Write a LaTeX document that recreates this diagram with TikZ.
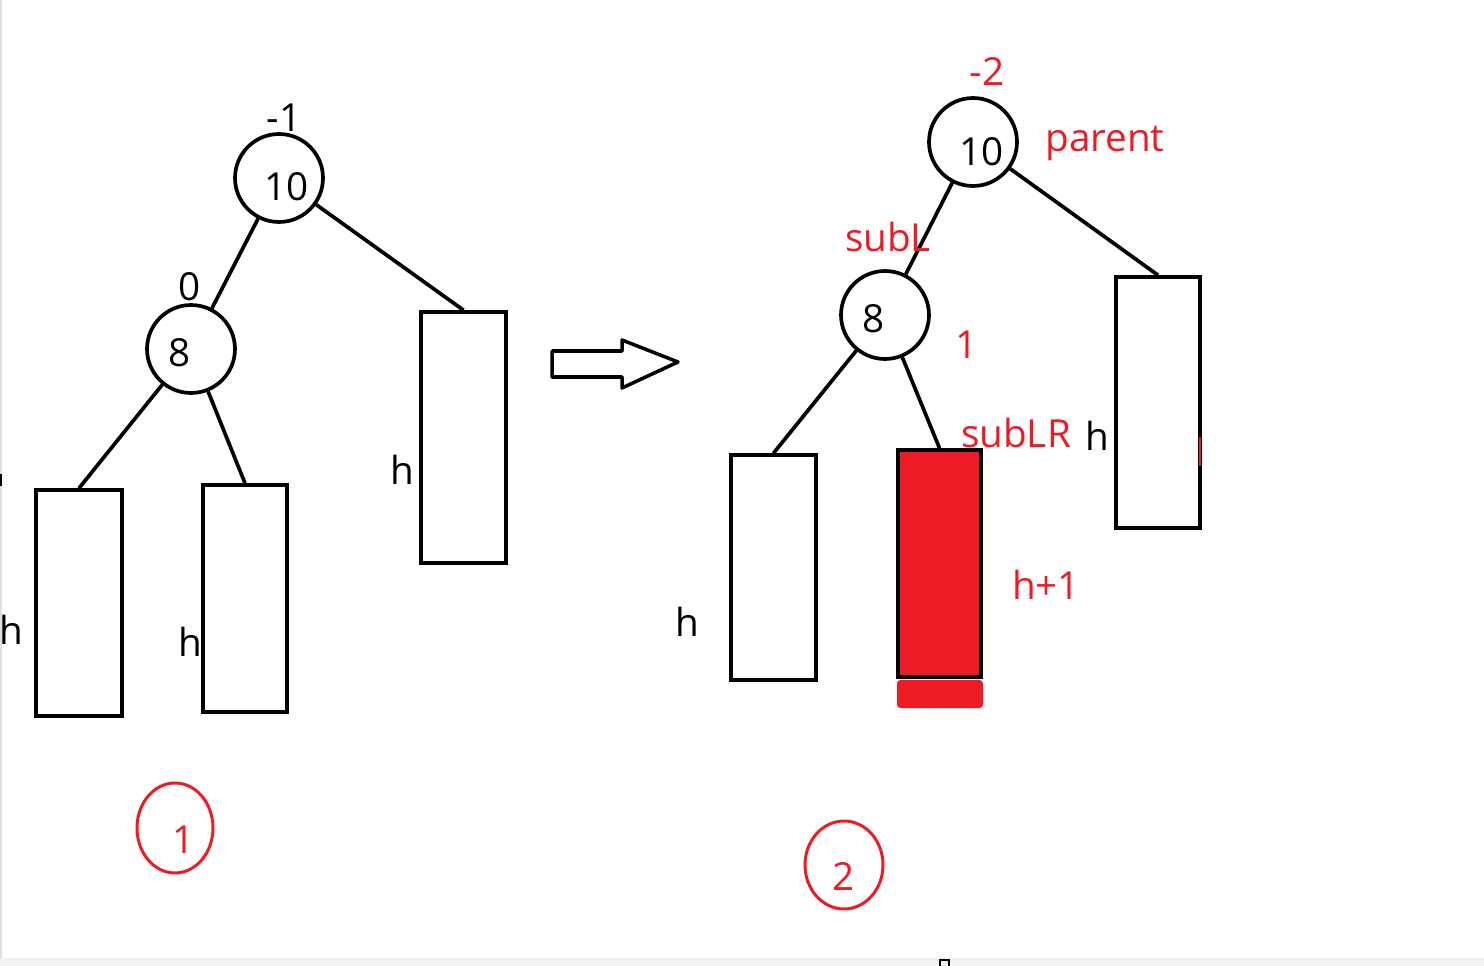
\documentclass[tikz,border=0pt]{standalone}
\usepackage{fontspec}
\setmainfont{Open Sans}
\usetikzlibrary{shapes.geometric}
\definecolor{paintred}{HTML}{ED1C24}
\tikzset{
  treenode/.style = {draw, circle, line width=2.1pt, minimum size=1.76cm, inner sep=0pt, text depth=0pt, font=\fontsize{22}{26}\selectfont},
  subtree/.style = {draw, rectangle, line width=2.1pt, inner sep=0pt},
  txt/.style = {font=\fontsize{22}{26}\selectfont, inner sep=0pt},
  redtxt/.style = {txt, text=paintred},
  numring/.style = {draw=paintred, ellipse, line width=1.7pt, inner sep=0pt, text depth=0pt, text height=29pt, text=paintred, font=\fontsize{22}{26}\selectfont},
  edge/.style = {line width=2.1pt}
}
\begin{document}
\begin{tikzpicture} [x = 0.02cm, y = -0.02cm]
	\useasboundingbox (0,0) rectangle (1484,966);
	% window frame
	\fill [gray!10] (0,958) rectangle (1484,966);
	\draw [gray!25, line width=0.6pt] (1,0) -- (1,958);
	\draw [line width=1pt] (1,474) -- (1,486);
	\draw [line width=1pt] (940,966) -- (940,960) -- (949,960) -- (949,966);
	%% tree 1
	\node [treenode, text height=26pt] (p1) at (279,178) {\hspace{0.4em}10};
	\node [treenode, text height=20pt] (s1) at (191,349) {8\rule{0.6em}{0pt}};
	\node [subtree, minimum width=1.7cm, minimum height=5.02cm] (r1) at (463.5,437.5) {};
	\node [subtree, minimum width=1.72cm, minimum height=4.52cm] (ll1) at (79,603) {};
	\node [subtree, minimum width=1.68cm, minimum height=4.54cm] (lr1) at (245,598.5) {};
	\draw [edge] (p1) -- (s1);
	\draw [edge] (p1) -- (r1.north);
	\draw [edge] (s1) -- (ll1.north);
	\draw [edge] (s1) -- (lr1.north);
	\node [txt] (bf1) at (284,118) {-1};
	\node [txt] (bf2) at (190,287) {0};
	\node [txt] (h1) at (402,470) {h};
	\node [txt] (h2) at (11,630) {h};
	\node [txt] (h3) at (190,642) {h};
	\node [numring, minimum width=1.52cm, minimum height=1.8cm] (n1) at (175,828) {\hspace{0.45em}1};
	% big arrow
	\draw [line width=2pt, line join=round] (552,351) -- (622,351) -- (622,340) -- (678,362) -- (622,388) -- (622,377) -- (552,377) -- cycle;
	%% tree 2
	\node [treenode, text height=27pt] (p2) at (973,142) {\hspace{0.45em}10};
	\node [treenode, text height=20pt] (s2) at (885,315) {8\rule{0.6em}{0pt}};
	\node [subtree, minimum width=1.68cm, minimum height=5.02cm] (r2) at (1158,402.5) {};
	\node [subtree, minimum width=1.7cm, minimum height=4.5cm] (ll2) at (773.5,567.5) {};
	\fill [paintred, rounded corners=2pt] (897,680) rectangle (983,708);
	\node [subtree, fill=paintred, minimum width=1.66cm, minimum height=4.54cm] (lr2) at (939.5,563.5) {};
	\draw [edge] (p2) -- (s2);
	\draw [edge] (p2) -- (r2.north);
	\draw [edge] (s2) -- (ll2.north);
	\draw [edge] (s2) -- (lr2.north);
	\draw [paintred, line width=1.4pt] (1200,437) -- (1200,466);
	\node [redtxt] (bf3) at (987,72) {-2};
	\node [redtxt] (lab1) at (1105,143) {parent};
	\node [redtxt] (lab2) at (888,237) {subL};
	\node [redtxt] (bf4) at (967,345) {1};
	\node [redtxt] (lab3) at (1016,433) {subLR};
	\node [redtxt] (h4) at (1046,585) {h+1};
	\node [txt] (h5) at (1097,436) {h};
	\node [txt] (h6) at (687,622) {h};
	\node [numring, minimum width=1.56cm, minimum height=1.76cm] (n2) at (844,865) {2};
\end{tikzpicture}
\end{document}
